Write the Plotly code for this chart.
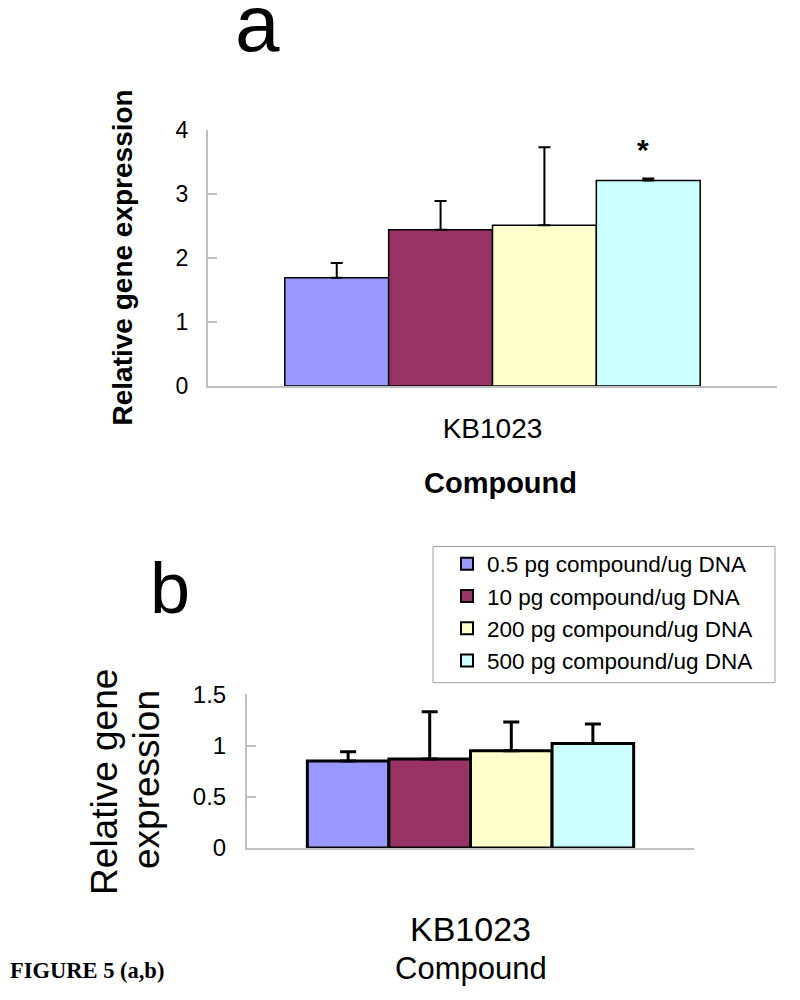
import plotly.graph_objects as go

# ---- data ----
categories = ["KB1023"]
series_names = ["0.5 pg compound/ug DNA", "10 pg compound/ug DNA",
                "200 pg compound/ug DNA", "500 pg compound/ug DNA"]
colors = ["#9999FF", "#993366", "#FFFFCC", "#CCFFFF"]

values_a = [1.69, 2.44, 2.51, 3.21]
errors_a = [0.23, 0.45, 1.22, 0.03]

values_b = [0.85, 0.87, 0.95, 1.02]
errors_b = [0.09, 0.46, 0.28, 0.19]

yticks_a = [0, 1, 2, 3, 4]
yticks_b = [0, 0.5, 1, 1.5]
yticklabels_b = ["0", "0.5", "1", "1.5"]

W, H = 800, 1000
OFF = 8  # page body margin
BARGAP = 0.27
AX = "#c0c0c0"
FONT = "Liberation Sans, Arial, sans-serif"

fig = go.Figure()
for i, name in enumerate(series_names):
    fig.add_trace(go.Bar(
        x=categories, y=[values_a[i]], name=name,
        marker=dict(color=colors[i], line=dict(color="black", width=1.5)),
        error_y=dict(type="data", array=[errors_a[i]], arrayminus=[0], symmetric=False,
                     color="black", thickness=2, width=6),
        xaxis="x", yaxis="y", offsetgroup=str(i), legendgroup=name, showlegend=True))
for i, name in enumerate(series_names):
    fig.add_trace(go.Bar(
        x=categories, y=[values_b[i]], name=name,
        marker=dict(color=colors[i], line=dict(color="black", width=3)),
        error_y=dict(type="data", array=[errors_b[i]], arrayminus=[0], symmetric=False,
                     color="black", thickness=3, width=8),
        xaxis="x2", yaxis="y2", offsetgroup=str(i), legendgroup=name, showlegend=False))

# plot areas (page pixels)
xa0, xa1, ya0, ya1 = 208, 777, 119, 382
xb0, xb1, yb0, yb1 = 247, 694, 699, 857

def px_x(p):
    return (p - OFF) / W

def px_y(p):
    return 1 - (p - OFF) / H

common_x = dict(type="category", range=[-0.5, 0.5], showline=True, linecolor=AX, linewidth=2,
                ticks="inside", tickson="boundaries", ticklen=10, tickcolor=AX, tickwidth=2,
                showgrid=False, zeroline=False)
common_y = dict(showline=True, linecolor=AX, linewidth=2, ticks="inside", ticklen=9,
                tickcolor=AX, tickwidth=2, showgrid=False, zeroline=False)

fig.update_layout(
    width=W, height=H, paper_bgcolor="white", plot_bgcolor="white",
    margin=dict(l=0, r=0, t=0, b=0),
    barmode="group", bargap=BARGAP, bargroupgap=0,
    font=dict(family=FONT, color="black"),
    xaxis=dict(domain=[px_x(xa0), px_x(xa1)], anchor="y",
               tickfont=dict(size=28), ticklabelstandoff=16, **common_x),
    yaxis=dict(domain=[px_y(ya1), px_y(ya0)], anchor="x", range=[0, 4],
               tickvals=yticks_a, tickfont=dict(size=23), ticklabelstandoff=13, **common_y),
    xaxis2=dict(domain=[px_x(xb0), px_x(xb1)], anchor="y2",
                tickfont=dict(size=34), ticklabelstandoff=50, **common_x),
    yaxis2=dict(domain=[px_y(yb1), px_y(yb0)], anchor="x2", range=[0, 1.5],
                tickvals=yticks_b, ticktext=yticklabels_b, tickfont=dict(size=24),
                ticklabelstandoff=14, **common_y),
    legend=dict(x=px_x(447), y=px_y(543), xanchor="left", yanchor="top",
                bgcolor="rgba(0,0,0,0)", borderwidth=0,
                font=dict(size=22.5, family=FONT), tracegroupgap=0, itemsizing="constant"),
    shapes=[dict(type="rect", xref="paper", yref="paper",
                 x0=px_x(433), x1=px_x(775), y0=px_y(687), y1=px_y(547),
                 line=dict(color="#a0a0a0", width=1), fillcolor="rgba(0,0,0,0)", layer="below")],
)

# asterisk above 4th bar of panel a
group_w = 1 - BARGAP
bar4_center_units = -group_w / 2 + group_w * 3.5 / 4
shift_px = bar4_center_units * (xa1 - xa0)

ann = [
    dict(text="a", x=px_x(257), y=px_y(10), xref="paper", yref="paper",
         font=dict(size=80), showarrow=False, xanchor="center", yanchor="middle"),
    dict(text="b", x=px_x(170), y=px_y(590), xref="paper", yref="paper",
         font=dict(size=72), showarrow=False, xanchor="center", yanchor="middle"),
    dict(text="<b>Relative gene expression</b>", x=px_x(122), y=px_y(250), xref="paper",
         yref="paper", textangle=-90, font=dict(size=28), showarrow=False,
         xanchor="center", yanchor="middle"),
    dict(text="<b>Compound</b>", x=px_x(500), y=px_y(482), xref="paper", yref="paper",
         font=dict(size=29), showarrow=False, xanchor="center", yanchor="middle"),
    dict(text="Relative gene", x=px_x(105), y=px_y(789), xref="paper", yref="paper",
         textangle=-90, font=dict(size=37), showarrow=False, xanchor="center", yanchor="middle"),
    dict(text="expression", x=px_x(147), y=px_y(787), xref="paper", yref="paper",
         textangle=-90, font=dict(size=37), showarrow=False, xanchor="center", yanchor="middle"),
    dict(text="Compound", x=px_x(471), y=px_y(981), xref="paper", yref="paper",
         font=dict(size=31), showarrow=False, xanchor="center", yanchor="middle"),
    dict(text="<b>FIGURE 5 (a,b)</b>", x=px_x(8), y=px_y(983), xref="paper", yref="paper",
         font=dict(size=22.5, family="Liberation Serif, Times New Roman, serif"),
         showarrow=False, xanchor="left", yanchor="middle"),
    dict(text="<b>*</b>", x=categories[0], y=values_a[3] + errors_a[3], xref="x", yref="y",
         xshift=shift_px - 5, yshift=11, font=dict(size=30), showarrow=False,
         xanchor="center", yanchor="bottom"),
]
fig.update_layout(annotations=ann)

fig.write_html("out.html")
